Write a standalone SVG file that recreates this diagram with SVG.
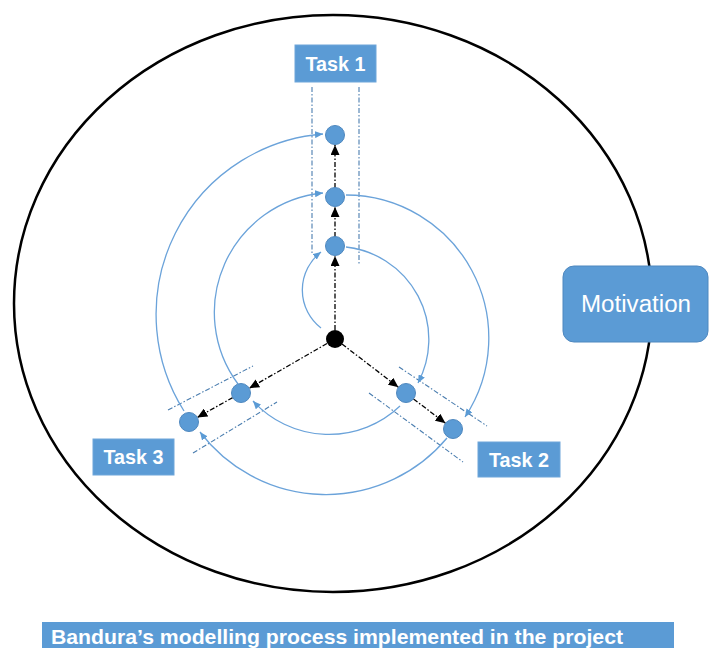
<svg xmlns="http://www.w3.org/2000/svg" width="710" height="648" viewBox="0 0 710 648">
<style>
.lbl{fill:#5B9BD5;stroke:#6FA6DA;stroke-width:1}
.lt{font-family:"Liberation Sans",Arial,sans-serif;font-weight:bold;fill:#fff;font-size:21px;text-anchor:middle}
.node{fill:#5B9BD5;stroke:#4F88BF;stroke-width:1}
.flow{fill:none;stroke:#000;stroke-width:1.3;stroke-dasharray:5 2 1.5 2}
.spiral{fill:none;stroke:#6BA3DA;stroke-width:1.3}
.guide{fill:none;stroke:#4A7DAF;stroke-width:1.1;stroke-dasharray:5 2 1.5 2}
</style>
<defs>
<marker id="ab" markerUnits="userSpaceOnUse" markerWidth="10" markerHeight="9" refX="10" refY="4.5" orient="auto"><path d="M0,0 L10,4.5 L0,9 Z" fill="#000"/></marker>
<marker id="abl" markerUnits="userSpaceOnUse" markerWidth="8" markerHeight="7" refX="8" refY="3.5" orient="auto"><path d="M0,0 L8,3.5 L0,7 Z" fill="#5B9BD5"/></marker>
</defs>
<rect width="710" height="648" fill="#fff"/>
<ellipse id="motivation-cycle" cx="333" cy="303.5" rx="319" ry="288.5" fill="none" stroke="#000" stroke-width="2.5"/>

<g id="guides">
<line class="guide" x1="312" y1="87" x2="312" y2="253"/>
<line class="guide" x1="359" y1="87" x2="359" y2="265"/>
<line class="guide" x1="168" y1="410" x2="253" y2="366"/>
<line class="guide" x1="193" y1="453" x2="277" y2="402"/>
<line class="guide" x1="399" y1="367" x2="487" y2="426"/>
<line class="guide" x1="369" y1="393" x2="463" y2="462"/>
</g>

<g id="connectors">
<path class="spiral" d="M321,328 A48,48 0 0 1 321,252" marker-end="url(#abl)"/>
<path class="spiral" d="M346,247 A93,93 0 0 1 418,383" marker-end="url(#abl)"/>
<path class="spiral" d="M400,406 A103,103 0 0 1 253,401" marker-end="url(#abl)"/>
<path class="spiral" d="M238,384 A120,120 0 0 1 323,193" marker-end="url(#abl)"/>
<path class="spiral" d="M346,195 A143,143 0 0 1 465,417" marker-end="url(#abl)"/>
<path class="spiral" d="M447,438 A158,158 0 0 1 200,432" marker-end="url(#abl)"/>
<path class="spiral" d="M184,411 A181,181 0 0 1 323,134" marker-end="url(#abl)"/>

<line class="flow" x1="335" y1="330" x2="335" y2="256" marker-end="url(#ab)"/>
<line class="flow" x1="335" y1="237" x2="335" y2="207" marker-end="url(#ab)"/>
<line class="flow" x1="335" y1="188" x2="335" y2="145" marker-end="url(#ab)"/>
<line class="flow" x1="342" y1="344" x2="398.4" y2="387.3" marker-end="url(#ab)"/>
<line class="flow" x1="413.5" y1="399" x2="445.5" y2="423.2" marker-end="url(#ab)"/>
<line class="flow" x1="327" y1="343.5" x2="249.2" y2="388.3" marker-end="url(#ab)"/>
<line class="flow" x1="232.7" y1="397.6" x2="197.3" y2="417.4" marker-end="url(#ab)"/>
</g>

<g id="start"><circle cx="335" cy="339" r="9" fill="#000"/></g>
<g id="t1-n1"><circle class="node" cx="335" cy="246" r="9.5"/></g>
<g id="t1-n2"><circle class="node" cx="335" cy="197" r="9.5"/></g>
<g id="t1-n3"><circle class="node" cx="335" cy="135" r="9.5"/></g>
<g id="t2-n1"><circle class="node" cx="406" cy="393" r="9.5"/></g>
<g id="t2-n2"><circle class="node" cx="453" cy="429" r="9.5"/></g>
<g id="t3-n1"><circle class="node" cx="241" cy="393" r="9.5"/></g>
<g id="t3-n2"><circle class="node" cx="189" cy="422" r="9.5"/></g>

<g id="task1"><rect class="lbl" x="295" y="45" width="81" height="37"/><text class="lt" x="335.5" y="71" textLength="60" lengthAdjust="spacingAndGlyphs">Task 1</text></g>
<g id="task2"><rect class="lbl" x="478" y="442" width="82" height="35"/><text class="lt" x="519" y="467" textLength="60" lengthAdjust="spacingAndGlyphs">Task 2</text></g>
<g id="task3"><rect class="lbl" x="93" y="439" width="81" height="36"/><text class="lt" x="133.5" y="464" textLength="60" lengthAdjust="spacingAndGlyphs">Task 3</text></g>

<g id="motivation"><rect x="563" y="266" width="145" height="76" rx="11" fill="#5B9BD5" stroke="#4F88BF" stroke-width="1"/><text x="636" y="312" font-family="'Liberation Sans',Arial,sans-serif" font-size="23" fill="#fff" text-anchor="middle" textLength="110" lengthAdjust="spacingAndGlyphs">Motivation</text></g>

<g id="caption"><rect x="42" y="622" width="632" height="30" fill="#5B9BD5"/><text x="51" y="644" font-family="'Liberation Sans',Arial,sans-serif" font-weight="bold" font-size="21" fill="#fff" textLength="572" lengthAdjust="spacingAndGlyphs">Bandura’s modelling process implemented in the project</text></g>
</svg>
